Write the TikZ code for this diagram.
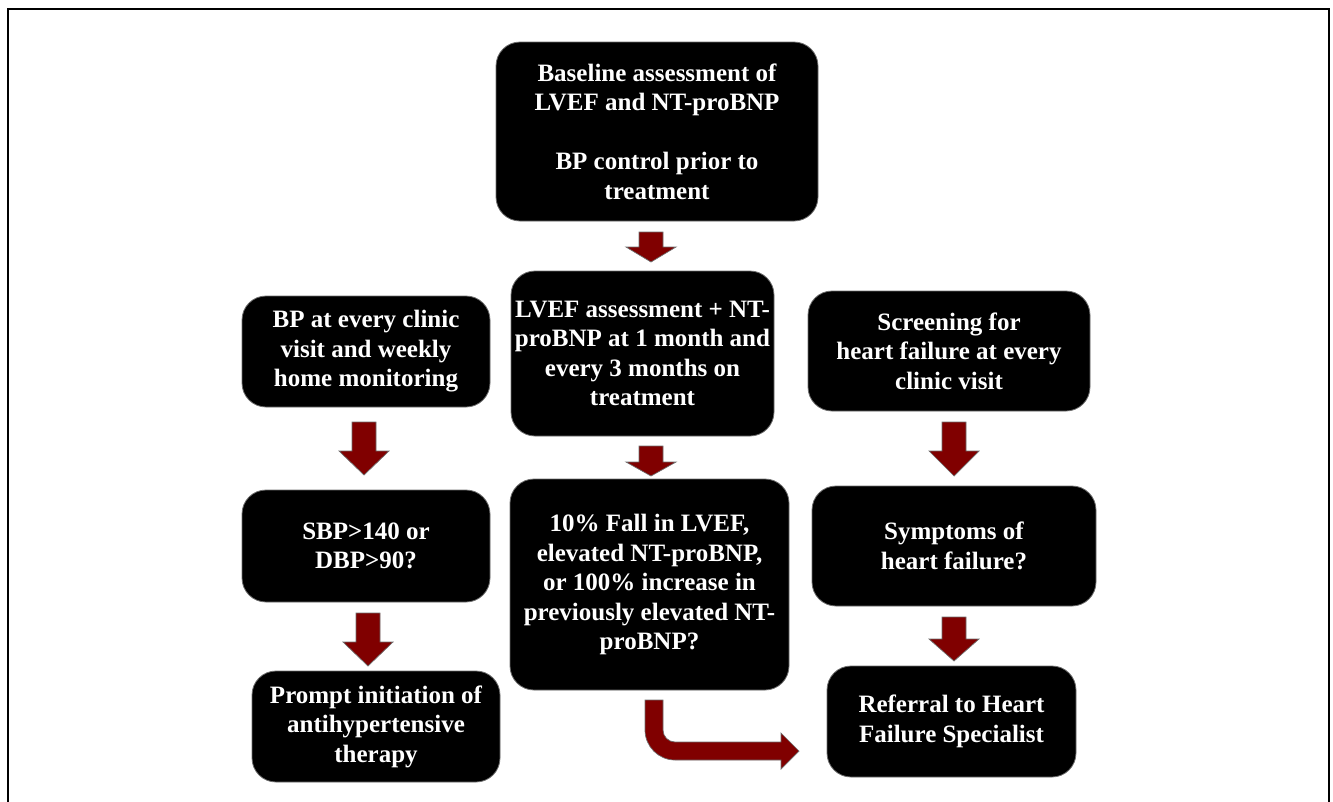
\documentclass[tikz,border=0pt]{standalone}
\usepackage{fontspec}
\setmainfont{Liberation Serif}
\usepackage{xcolor}
\usepackage{tikz}
\usetikzlibrary{positioning, arrows.meta, calc}
\definecolor{arrowred}{HTML}{800000}
\definecolor{edgegray}{HTML}{6E6E6E}

\tikzset{
  flowbox/.style={fill=black, draw=edgegray, line width=0.8pt, rounded corners=24pt,
    text=white, align=center, inner sep=0pt,
    font=\fontsize{25}{29.5}\selectfont\bfseries},
  blockarrow/.style={fill=arrowred, draw=edgegray, line width=0.7pt}
}
% block arrow pointing down: centre x, top, start of head, tip
\newcommand{\blkarrow}[4]{%
  \path[blockarrow] (#1-12,#2) -- (#1+12,#2) -- (#1+12,#3) -- (#1+25,#3)
    -- (#1,#4) -- (#1-25,#3) -- (#1-12,#3) -- cycle;}

\begin{document}
\begin{tikzpicture}[x=1pt, y=-1pt]
    \useasboundingbox (0,0) rectangle (1333,801);
    \draw[line width=2pt] (8,9) rectangle (1329,830);

    % centre column
    \node[flowbox, minimum width=322pt, minimum height=179pt] (base) at (657,131.5)
      {Baseline assessment of\\LVEF and NT-proBNP\\[29.5pt]BP control prior to\\treatment};
    \node[flowbox, minimum width=263pt, minimum height=165pt] (lvef) at (642.5,353.5)
      {LVEF assessment + NT-\\proBNP at 1 month and\\every 3 months on\\treatment};
    \node[flowbox, minimum width=279pt, minimum height=211pt] (fall) at (649.5,584.5)
      {10\% Fall in LVEF,\\elevated NT-proBNP,\\or 100\% increase in\\previously elevated NT-\\proBNP?};

    % left column
    \node[flowbox, minimum width=248pt, minimum height=111pt] (bpvisit) at (366,351.5)
      {BP at every clinic\\visit and weekly\\home monitoring};
    \node[flowbox, minimum width=248pt, minimum height=112pt] (sbp) at (366,546)
      {SBP>140 or\\DBP>90?};
    \node[flowbox, minimum width=248pt, minimum height=111pt] (prompt) at (376,726.5)
      {Prompt initiation of\\antihypertensive\\therapy};

    % right column
    \node[flowbox, minimum width=282pt, minimum height=120pt] (screen) at (949,351)
      {Screening for\\heart failure at every\\clinic visit};
    \node[flowbox, minimum width=284pt, minimum height=120pt] (symptoms) at (954,546)
      {Symptoms of\\heart failure?};
    \node[flowbox, minimum width=249pt, minimum height=111pt] (referral) at (951.5,721.5)
      {Referral to Heart\\Failure Specialist};

    % arrows
    \blkarrow{651}{232}{247}{262}
    \blkarrow{651}{446}{462}{476}
    \blkarrow{364}{422}{451}{475}
    \blkarrow{368}{613}{642}{666}
    \blkarrow{954}{422}{451}{476}
    \blkarrow{954}{617}{639}{661}

    % bent arrow from fall towards referral
    \path[blockarrow] (645,700) -- (663,700) -- (663,730)
      .. controls (663,736.6) and (668.4,742) .. (675,742) -- (781,742)
      -- (781,733) -- (799,751) -- (781,769) -- (781,760) -- (675,760)
      .. controls (658.5,760) and (645,746.5) .. (645,730) -- cycle;
\end{tikzpicture}
\end{document}
